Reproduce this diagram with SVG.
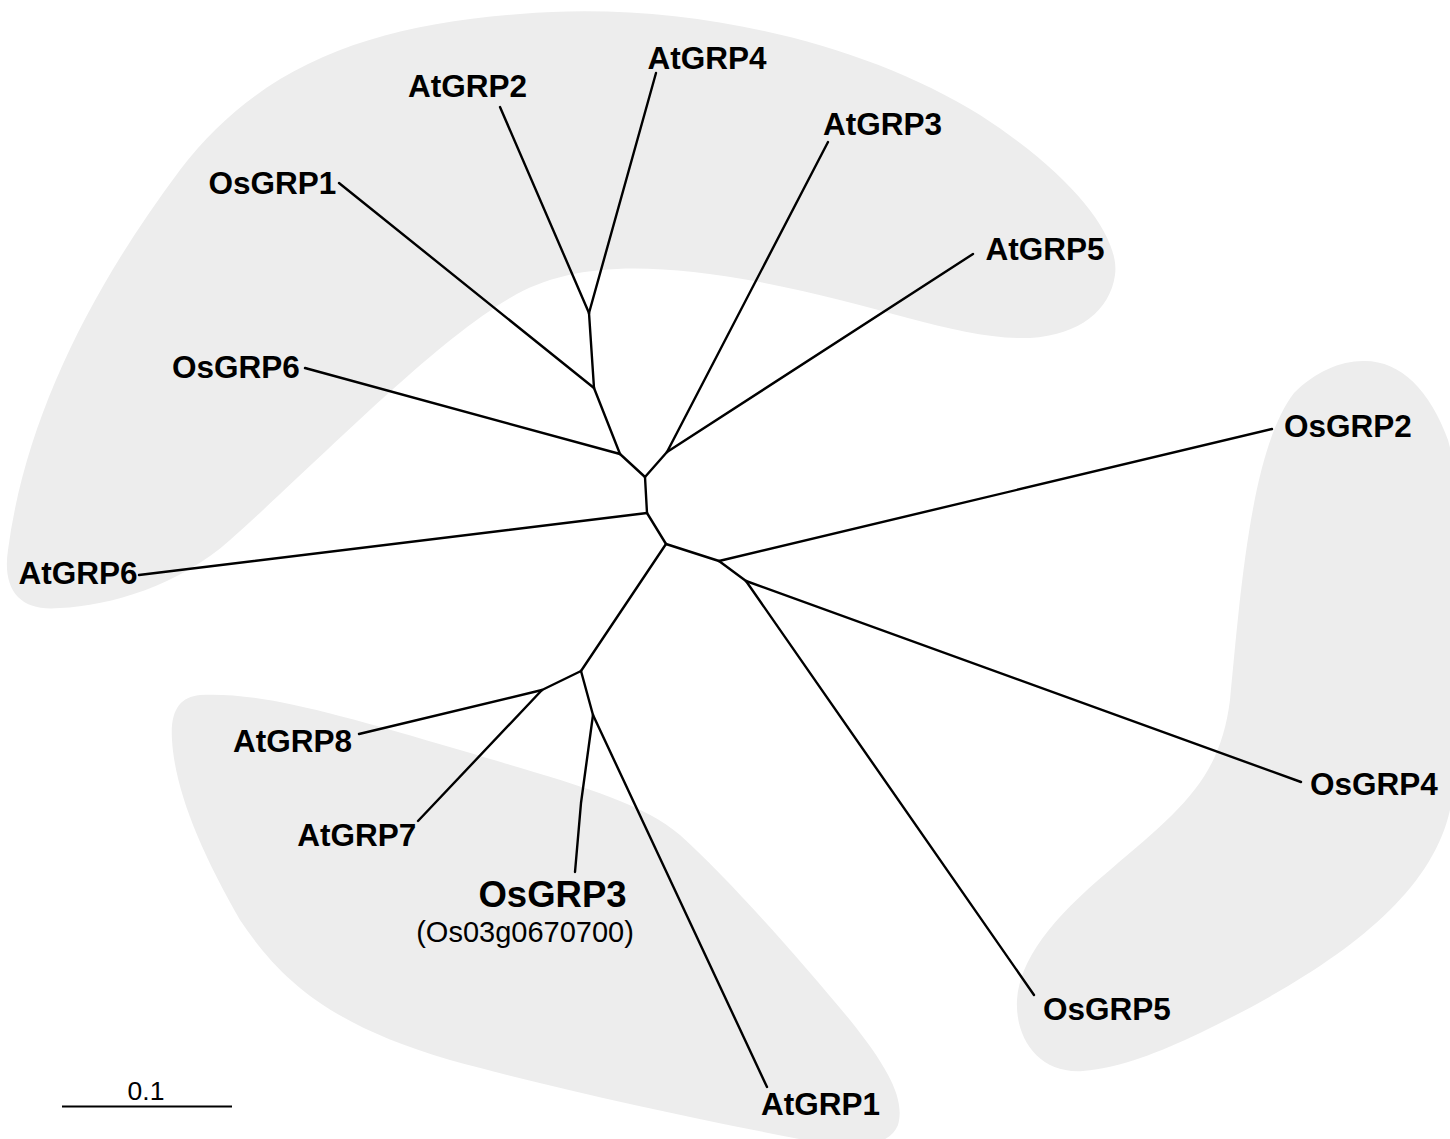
<svg xmlns="http://www.w3.org/2000/svg" width="1450" height="1139" viewBox="0 0 1450 1139">
<style>
.blob{fill:#ededed;stroke:none}
.edge{stroke:#000;stroke-width:2.4;fill:none;stroke-linecap:round;stroke-linejoin:round}
.lbl{font-family:"Liberation Sans",Arial,sans-serif;font-weight:bold;font-size:31.5px;fill:#000;text-anchor:middle}
.big{font-size:36.5px}
.reg{font-family:"Liberation Sans",Arial,sans-serif;font-weight:normal;font-size:29px;fill:#000;text-anchor:middle}
.scale{font-family:"Liberation Sans",Arial,sans-serif;font-size:26.5px;fill:#000;text-anchor:middle}
</style>
<rect width="1450" height="1139" fill="#fff"/>
<g id="clades">
<path id="clade-top" class="blob" d="M 60,608 C 20,612 2,590 8,550 C 25,420 90,290 180,170 C 260,65 370,25 520,14 C 680,0 860,40 980,115 C 1080,180 1120,240 1115,275 C 1110,310 1080,335 1030,338 C 960,340 880,305 760,282 C 650,262 570,262 510,298 C 430,345 320,460 230,540 C 180,585 110,606 60,608 Z"/>
<path id="clade-right" class="blob" d="M 1363,361 C 1400,360 1430,390 1448,440 C 1470,520 1470,700 1450,810 C 1430,900 1330,970 1200,1033 C 1160,1052 1120,1068 1083,1071 C 1040,1074 1015,1040 1017,1000 C 1020,960 1050,920 1110,870 C 1180,810 1220,780 1230,700 C 1240,600 1250,450 1294,393 C 1315,372 1340,361 1363,361 Z"/>
<path id="clade-bottom" class="blob" d="M 200,695 C 260,692 330,712 460,750 C 560,780 640,800 680,835 C 730,880 800,960 850,1020 C 890,1070 905,1100 898,1125 C 890,1145 860,1150 820,1143 C 700,1120 560,1090 450,1060 C 330,1025 280,980 240,920 C 200,850 175,790 172,740 C 170,710 180,697 200,695 Z"/>
</g>
<g id="connectors">
<line class="edge" x1="645" y1="477" x2="647" y2="513"/>
<line class="edge" x1="647" y1="513" x2="666" y2="544"/>
<line class="edge" x1="666" y1="544" x2="719" y2="561"/>
<line class="edge" x1="719" y1="561" x2="746" y2="581"/>
<line class="edge" x1="645" y1="477" x2="620" y2="454"/>
<line class="edge" x1="620" y1="454" x2="594" y2="388"/>
<line class="edge" x1="594" y1="388" x2="589" y2="313"/>
<line class="edge" x1="645" y1="477" x2="667" y2="452"/>
<line class="edge" x1="666" y1="544" x2="581" y2="671"/>
<line class="edge" x1="581" y1="671" x2="542" y2="690"/>
<line class="edge" x1="581" y1="671" x2="593" y2="715"/>
<line class="edge" x1="589" y1="313" x2="500" y2="107"/>
<line class="edge" x1="589" y1="313" x2="656" y2="73"/>
<line class="edge" x1="594" y1="388" x2="339" y2="183"/>
<line class="edge" x1="620" y1="454" x2="305" y2="368"/>
<line class="edge" x1="667" y1="452" x2="828" y2="142"/>
<line class="edge" x1="667" y1="452" x2="973" y2="254"/>
<line class="edge" x1="647" y1="513" x2="139" y2="575"/>
<line class="edge" x1="719" y1="561" x2="1272" y2="429"/>
<line class="edge" x1="746" y1="581" x2="1301" y2="782"/>
<line class="edge" x1="746" y1="581" x2="1034" y2="995"/>
<line class="edge" x1="542" y1="690" x2="359" y2="734"/>
<line class="edge" x1="542" y1="690" x2="418" y2="821"/>
<polyline class="edge" points="593,715 581,803 575,872"/>
<line class="edge" x1="593" y1="715" x2="767" y2="1087"/>
</g>
<g id="AtGRP4"><text class="lbl" x="707" y="69">AtGRP4</text></g>
<g id="AtGRP2"><text class="lbl" x="467.5" y="97">AtGRP2</text></g>
<g id="AtGRP3"><text class="lbl" x="882.5" y="135">AtGRP3</text></g>
<g id="OsGRP1"><text class="lbl" x="272.5" y="194">OsGRP1</text></g>
<g id="AtGRP5"><text class="lbl" x="1045" y="260">AtGRP5</text></g>
<g id="OsGRP6"><text class="lbl" x="236" y="378">OsGRP6</text></g>
<g id="OsGRP2"><text class="lbl" x="1348" y="437">OsGRP2</text></g>
<g id="AtGRP6"><text class="lbl" x="78" y="584">AtGRP6</text></g>
<g id="AtGRP8"><text class="lbl" x="292.5" y="752">AtGRP8</text></g>
<g id="AtGRP7"><text class="lbl" x="356.7" y="846">AtGRP7</text></g>
<g id="OsGRP4"><text class="lbl" x="1374" y="795">OsGRP4</text></g>
<g id="OsGRP3"><text class="lbl big" x="552.5" y="907">OsGRP3</text><text class="reg" x="525" y="942">(Os03g0670700)</text></g>
<g id="OsGRP5"><text class="lbl" x="1107" y="1020">OsGRP5</text></g>
<g id="AtGRP1"><text class="lbl" x="820.5" y="1115">AtGRP1</text></g>
<g id="scalebar"><line x1="62" y1="1106.5" x2="232" y2="1106.5" stroke="#000" stroke-width="2"/><text class="scale" x="146" y="1100">0.1</text></g>
</svg>
